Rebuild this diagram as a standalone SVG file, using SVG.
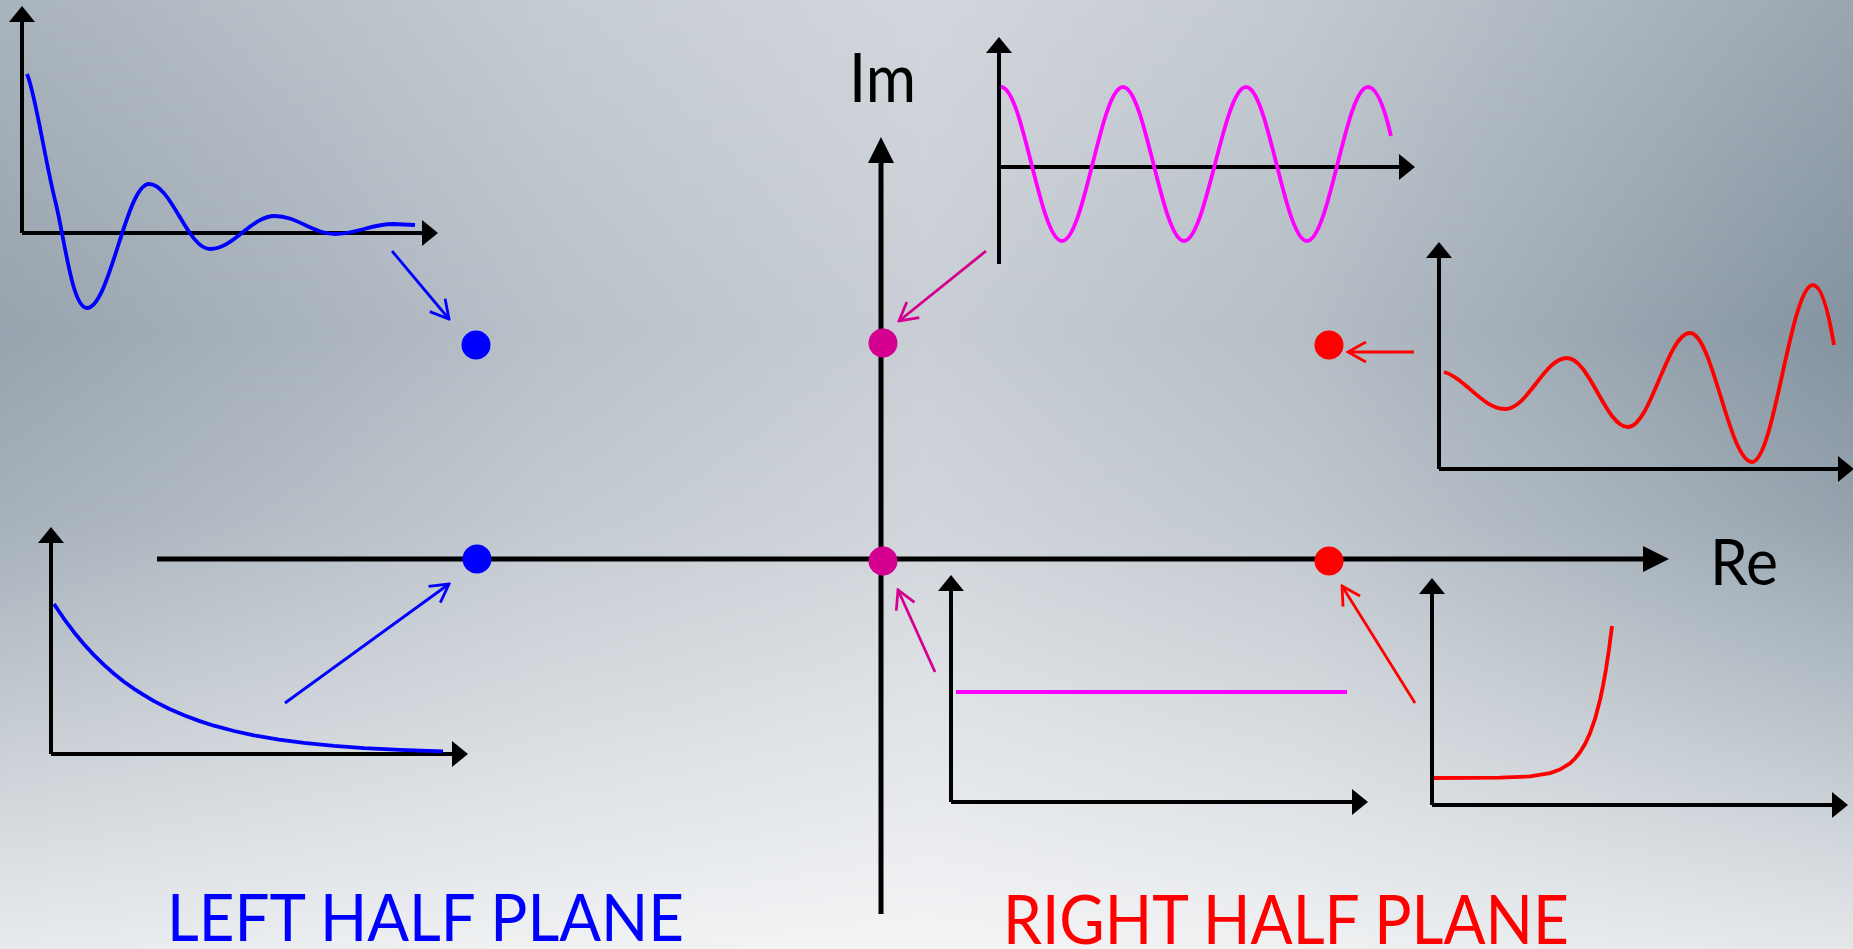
<svg xmlns="http://www.w3.org/2000/svg" width="1853" height="949" viewBox="0 0 1853 949">
<defs>
<linearGradient id="bgH" x1="0" y1="0" x2="1" y2="0">
<stop offset="0" stop-color="#97a3ae"/>
<stop offset="0.3" stop-color="#b9c1c9"/>
<stop offset="0.5" stop-color="#c9ced5"/>
<stop offset="0.7" stop-color="#b6bec6"/>
<stop offset="1" stop-color="#8393a0"/>
</linearGradient>
<linearGradient id="bgV" x1="0" y1="0" x2="0" y2="1">
<stop offset="0" stop-color="#ffffff" stop-opacity="0.18"/>
<stop offset="0.35" stop-color="#ffffff" stop-opacity="0"/>
<stop offset="0.55" stop-color="#ffffff" stop-opacity="0.15"/>
<stop offset="1" stop-color="#ffffff" stop-opacity="0.78"/>
</linearGradient>
<marker id="ahMain" viewBox="0 -14 28 28" refX="0" refY="0" markerWidth="28" markerHeight="28" markerUnits="userSpaceOnUse" orient="auto">
<path d="M0,-13 L26,0 L0,13 z" fill="#000"/>
</marker>
<marker id="ahSmall" viewBox="0 -14 18 28" refX="0" refY="0" markerWidth="18" markerHeight="28" markerUnits="userSpaceOnUse" orient="auto">
<path d="M0,-13 L16,0 L0,13 z" fill="#000"/>
</marker>
<marker id="openBlue" viewBox="-21 -12 23 24" refX="0" refY="0" markerWidth="23" markerHeight="24" markerUnits="userSpaceOnUse" orient="auto">
<path d="M-18,-10 L0,0 L-18,10" fill="none" stroke="#0000ff" stroke-width="2.8"/>
</marker>
<marker id="openMag" viewBox="-21 -12 23 24" refX="0" refY="0" markerWidth="23" markerHeight="24" markerUnits="userSpaceOnUse" orient="auto">
<path d="M-18,-10 L0,0 L-18,10" fill="none" stroke="#d5008f" stroke-width="2.8"/>
</marker>
<marker id="openRed" viewBox="-21 -12 23 24" refX="0" refY="0" markerWidth="23" markerHeight="24" markerUnits="userSpaceOnUse" orient="auto">
<path d="M-18,-10 L0,0 L-18,10" fill="none" stroke="#ff0000" stroke-width="2.8"/>
</marker>
</defs>
<style>
.ax{stroke:#000;stroke-width:4;fill:none;marker-end:url(#ahSmall)}
.main{stroke:#000;stroke-width:5;fill:none;marker-end:url(#ahMain)}
.cv{fill:none;stroke-width:3.8;stroke-linejoin:round;stroke-linecap:butt}
.blue{stroke:#0000ff}
.mag{stroke:#ff00ff}
.red{stroke:#ff0000}
.ptr{fill:none;stroke-width:2.8}
.lbl{font-family:Lato,"Open Sans","Liberation Sans",sans-serif}
</style>
<rect x="0" y="0" width="1853" height="949" fill="url(#bgH)"/>
<rect x="0" y="0" width="1853" height="949" fill="url(#bgV)"/>

<g id="complex-plane-axes">
<path class="main" d="M157,559 L1643,559"/>
<path class="main" d="M881,914 L881,163"/>
<text class="lbl" x="849" y="102" font-size="67" textLength="67" lengthAdjust="spacingAndGlyphs" fill="#000">Im</text>
<text class="lbl" x="1710" y="585" font-size="64" textLength="68" lengthAdjust="spacingAndGlyphs" fill="#000">Re</text>
</g>

<g id="plot-damped-oscillation">
<path class="ax" d="M22,233 L22,22"/>
<path class="ax" d="M22,233 L422,233"/>
<path class="cv blue" d="M27,74 C35,92 45,160 55,200 S72,308 87,308 C109.6,308 126.4,184 149,184 C171.2,184 187.8,249 210,249 C233.7,249 251.3,216 275,216 C296.8,216 313.2,234 335,234 C356.1,234 371.9,224 393,224 L415,225"/>
</g>

<g id="plot-sustained-oscillation">
<path class="ax" d="M999,264 L999,53"/>
<path class="ax" d="M999,167 L1399,167"/>
<path class="cv mag" d="M1001,87 C1023.3,87 1039.7,241 1062,241 C1084.3,241 1100.7,87 1123,87 C1145.3,87 1161.7,241 1184,241 C1206.3,241 1223.7,87 1246,87 C1268.3,87 1284.7,241 1307,241 C1329.3,241 1345.7,87 1368,87 C1377,87 1385,110 1391,136"/>
</g>

<g id="plot-growing-oscillation">
<path class="ax" d="M1439,469 L1439,258"/>
<path class="ax" d="M1439,469 L1838,469"/>
<path class="cv red" d="M1444,372 C1465,378 1483,409 1505,409 C1527.6,409 1544.4,358 1567,358 C1589.2,358 1605.8,427 1628,427 C1650.6,427 1667.4,333 1690,333 C1712.6,333 1729.4,462 1752,462 C1774.2,462 1790.8,285 1813,285 C1822,285 1829,315 1834,345"/>
</g>

<g id="plot-exponential-decay">
<path class="ax" d="M51,754 L51,543"/>
<path class="ax" d="M51,754 L452,754"/>
<polyline class="cv blue" points="54,604 64,618.8 74,632.2 84,644.2 94,655.1 104,664.9 114,673.7 124,681.7 134,688.8 144,695.2 154,701.1 169,708.7 184,715.3 199,720.9 214,725.7 234,731 254,735.3 279,739.6 304,742.9 334,745.9 364,748.1 400,749.9 443,751.4"/>
</g>

<g id="plot-constant">
<path class="ax" d="M951,802 L951,591"/>
<path class="ax" d="M951,802 L1352,802"/>
<path class="cv mag" d="M956,692 L1347,692"/>
</g>

<g id="plot-exponential-growth">
<path class="ax" d="M1432,805 L1432,594"/>
<path class="ax" d="M1432,805 L1832,805"/>
<polyline class="cv red" points="1434,778 1500,777.7 1530,776.4 1550,773.1 1560,769.5 1570,763.3 1575,758.5 1580,752.3 1585,744.1 1590,733.2 1595,718.9 1600,700 1603,685.8 1606,669.1 1609,649.3 1612,626"/>
</g>

<g id="pole-lhp-complex"><circle cx="476" cy="345" r="14.5" fill="#0000ff"/></g>
<g id="pole-lhp-real"><circle cx="477" cy="559" r="14.5" fill="#0000ff"/></g>
<g id="pole-imag-axis"><circle cx="883" cy="343" r="14.5" fill="#d5008f"/></g>
<g id="pole-origin"><circle cx="883" cy="561" r="14.5" fill="#d5008f"/></g>
<g id="pole-rhp-complex"><circle cx="1329" cy="345" r="14.5" fill="#ff0000"/></g>
<g id="pole-rhp-real"><circle cx="1329" cy="561" r="14.5" fill="#ff0000"/></g>

<g id="connectors">
<path class="ptr" stroke="#0000ff" marker-end="url(#openBlue)" d="M392,251 L449,319"/>
<path class="ptr" stroke="#0000ff" marker-end="url(#openBlue)" d="M285,703 L449,584"/>
<path class="ptr" stroke="#d5008f" marker-end="url(#openMag)" d="M986,251 L899,321"/>
<path class="ptr" stroke="#d5008f" marker-end="url(#openMag)" d="M935,672 L898,590"/>
<path class="ptr" stroke="#ff0000" marker-end="url(#openRed)" d="M1414,352 L1348,352"/>
<path class="ptr" stroke="#ff0000" marker-end="url(#openRed)" d="M1415,703 L1342,586"/>
</g>

<g id="labels">
<text class="lbl" x="167" y="941" font-size="66" textLength="517" lengthAdjust="spacingAndGlyphs" fill="#0000ff">LEFT HALF PLANE</text>
<text class="lbl" x="1003" y="944" font-size="67" textLength="566" lengthAdjust="spacingAndGlyphs" fill="#ff0000">RIGHT HALF PLANE</text>
</g>
</svg>
